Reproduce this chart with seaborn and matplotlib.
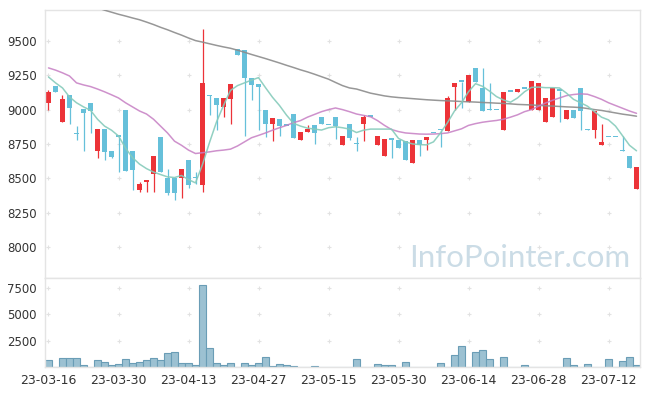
import numpy as np
import pandas as pd
import matplotlib
matplotlib.use("Agg")
import matplotlib.pyplot as plt
import seaborn as sns

sns.set_theme(style="white")
plt.rcParams['font.family'] = ['DejaVu Sans']

# trading days (KRX holidays skipped)
holidays = ["2023-05-01", "2023-05-05", "2023-05-29", "2023-06-06"]
dates = pd.bdate_range("2023-03-16", "2023-07-18", freq="C", holidays=holidays)

# daily candles
open_ = [9046, 9171, 8907, 9110, 8820, 9005, 9051, 8701, 8862, 8699,
         8803, 8997, 8699, 8414, 8471, 8532, 8801, 8500, 8500, 8498,
         8632, 8510, 8449, 9105, 9086, 9022, 9076, 9439, 9434, 9233,
         9184, 9000, 8895, 8932, 8882, 8968, 8777, 8838, 8888, 8948,
         8888, 8948, 8745, 8895, 8748, 8892, 8949, 8745, 8664, 8785,
         8779, 8770, 8608, 8779, 8779, 8830, 8850, 8847, 9164, 9204,
         9054, 9301, 9160, 8998, 8998, 8850, 9132, 9130, 9152, 8996,
         8996, 8907, 8943, 9137, 8929, 8996, 9154, 8862, 8848, 8743,
         8799, 8799, 8699, 8662, 8421]
close_ = [9127, 9127, 9081, 9010, 8820, 8973, 8993, 8860, 8693, 8654,
          8803, 8553, 8561, 8456, 8485, 8662, 8546, 8392, 8392, 8566,
          8454, 8500, 9194, 9100, 9037, 9086, 9189, 9395, 9233, 9179,
          9164, 8895, 8941, 8882, 8882, 8796, 8838, 8862, 8826, 8895,
          8888, 8882, 8806, 8796, 8748, 8949, 8949, 8806, 8787, 8780,
          8721, 8635, 8779, 8743, 8801, 8830, 8850, 9088, 9192, 9204,
          9250, 9199, 8993, 8998, 8998, 9132, 9132, 9152, 9152, 9206,
          9192, 9088, 9154, 9137, 8998, 8941, 8988, 8848, 8993, 8767,
          8799, 8799, 8699, 8576, 8583]
high_ = [9140, 9171, 9103, 9110, 8880, 9005, 9051, 8860, 8862, 8699,
         8803, 8997, 8699, 8471, 8485, 8665, 8801, 8564, 8500, 8570,
         8632, 8545, 9586, 9105, 9086, 9086, 9189, 9439, 9434, 9233,
         9184, 9000, 8941, 8932, 8882, 8968, 8838, 8888, 8888, 8948,
         8888, 8948, 8806, 8895, 8801, 8961, 8949, 8806, 8787, 8785,
         8779, 8770, 8779, 8779, 8801, 8830, 8850, 9101, 9192, 9204,
         9250, 9301, 9301, 9194, 8998, 9132, 9132, 9152, 9152, 9206,
         9192, 9088, 9154, 9137, 8998, 8996, 9154, 8862, 8993, 8895,
         8799, 8799, 8809, 8662, 8583]
low_ = [8998, 9127, 8907, 8895, 8777, 8699, 8829, 8645, 8630, 8645,
        8546, 8553, 8417, 8397, 8397, 8397, 8546, 8380, 8343, 8355,
        8430, 8455, 8400, 8961, 8853, 8943, 8895, 9395, 8809, 9071,
        8850, 8801, 8772, 8809, 8882, 8796, 8777, 8838, 8748, 8895,
        8888, 8785, 8745, 8779, 8699, 8772, 8949, 8745, 8664, 8648,
        8721, 8635, 8608, 8660, 8704, 8830, 8728, 8847, 8998, 9013,
        9054, 9199, 8993, 8998, 8998, 8850, 9132, 9130, 9152, 8996,
        8996, 8907, 8943, 8912, 8929, 8941, 8855, 8848, 8796, 8743,
        8799, 8799, 8699, 8576, 8421]
volume = [700, 0, 850, 850, 850, 200, 0, 700, 500, 200,
          300, 760, 400, 500, 700, 880, 700, 1360, 1450, 400,
          400, 200, 7720, 1800, 400, 200, 400, 0, 400, 200,
          400, 950, 100, 300, 200, 100, 0, 0, 100, 30,
          30, 50, 50, 50, 760, 0, 0, 285, 190, 190,
          50, 475, 0, 50, 50, 0, 420, 50, 1140, 2000,
          50, 1460, 1610, 770, 50, 950, 0, 50, 190, 0,
          50, 0, 50, 50, 850, 190, 50, 280, 50, 50,
          760, 50, 570, 950, 190]

# moving averages as drawn
ma5 = [9238, 9195, 9158, 9092, 9050, 9020, 8995, 8930, 8880, 8850,
       8808, 8720, 8650, 8603, 8570, 8545, 8527, 8510, 8505, 8520,
       8490, 8466, 8600, 8760, 8910, 9030, 9140, 9175, 9195, 9215,
       9233, 9160, 9090, 9030, 8960, 8900, 8880, 8865, 8858, 8851,
       8868, 8875, 8868, 8858, 8833, 8850, 8858, 8858, 8858, 8858,
       8790, 8765, 8750, 8745, 8743, 8765, 8830, 8905, 8990, 9050,
       9130, 9189, 9170, 9135, 9095, 9070, 9054, 9085, 9130, 9162,
       9164, 9160, 9160, 9158, 9120, 9075, 9050, 9025, 8985, 8945,
       8925, 8880, 8810, 8740, 8700]
ma20 = [9304, 9288, 9268, 9245, 9195, 9180, 9168, 9150, 9130, 9108,
        9085, 9050, 9020, 8990, 8968, 8930, 8880, 8830, 8770, 8740,
        8705, 8680, 8686, 8692, 8700, 8705, 8712, 8735, 8765, 8795,
        8812, 8830, 8850, 8868, 8885, 8905, 8920, 8945, 8965, 8985,
        9000, 9012, 9000, 8985, 8968, 8958, 8948, 8920, 8885, 8855,
        8840, 8830, 8826, 8822, 8821, 8822, 8825, 8830, 8845, 8860,
        8885, 8898, 8908, 8915, 8921, 8930, 8945, 8962, 8985, 9000,
        9025, 9048, 9068, 9085, 9102, 9110, 9115, 9112, 9095, 9075,
        9050, 9030, 9010, 8990, 8973]
ma60 = [9850, 9835, 9820, 9805, 9790, 9775, 9760, 9742, 9725, 9710,
        9695, 9682, 9668, 9655, 9638, 9620, 9600, 9582, 9562, 9543,
        9522, 9503, 9492, 9480, 9468, 9457, 9447, 9433, 9418, 9402,
        9387, 9372, 9356, 9340, 9323, 9307, 9290, 9275, 9258, 9240,
        9222, 9198, 9175, 9158, 9150, 9135, 9120, 9110, 9100, 9093,
        9088, 9084, 9080, 9076, 9072, 9069, 9066, 9064, 9062, 9059,
        9057, 9055, 9052, 9050, 9047, 9045, 9042, 9038, 9036, 9034,
        9031, 9028, 9026, 9023, 9020, 9018, 9015, 9008, 9000, 8994,
        8985, 8976, 8967, 8960, 8952]

price_ticks = [8000, 8250, 8500, 8750, 9000, 9250, 9500]
vol_ticks = [2500, 5000, 7500]

RED = "#ec3338"
BLUE = "#66c0da"
GRID = "#e2e2e2"
SPINE = "#e4e4e4"

x = np.arange(len(close_))
o = np.array(open_); c = np.array(close_)
colors = np.where(c > o, RED, BLUE)
label_pos = list(range(0, len(x), 10))
labels = [dates[i].strftime("%y-%m-%d") for i in label_pos]

fig = plt.figure(figsize=(6.49, 3.96), dpi=100)
ax = fig.add_axes([45/649, (396-277.7)/396, 595/649, 267.7/396])
axv = fig.add_axes([45/649, (396-367.3)/396, 595/649, 89.6/396])

# --- price panel ---
gx, gy = np.meshgrid(label_pos, price_ticks)
ax.plot(gx.ravel(), gy.ravel(), "+", color=GRID, ms=3.5, mew=0.8, zorder=0)
ax.vlines(x, low_, high_, color=colors, lw=0.9, zorder=2)
body_h = np.maximum(np.abs(c - o), 10)
ax.bar(x, body_h, bottom=np.minimum(o, c), width=0.62, color=colors, linewidth=0, zorder=2)

sns.lineplot(x=x, y=ma60, ax=ax, color="#8c8c8c", lw=1.1, alpha=0.9, zorder=3)
sns.lineplot(x=x, y=ma20, ax=ax, color="#c67ec3", lw=1.1, alpha=0.85, zorder=3)
sns.lineplot(x=x, y=ma5, ax=ax, color="#86cbbb", lw=1.1, alpha=0.9, zorder=3)

ax.text(0.983, 0.041, "InfoPointer.com", transform=ax.transAxes, ha="right", va="baseline",
        fontsize=22.5, color="#cbdce6", family="Lato", zorder=1)

ax.set_xlim(-0.5, len(x) - 0.5)
ax.set_ylim(7775, 9726)
ax.set_yticks(price_ticks)
ax.set_xticks([])
ax.tick_params(axis="y", length=0, pad=6, labelsize=8.5, labelcolor="#333333")

# --- volume panel ---
gx, gy = np.meshgrid(label_pos, vol_ticks)
axv.plot(gx.ravel(), gy.ravel(), "+", color=GRID, ms=3.5, mew=0.8, zorder=0)
axv.bar(x, volume, width=1.0, color="#9cc1d2", edgecolor="#6a9db6", linewidth=0.8, zorder=2)
axv.set_xlim(-0.5, len(x) - 0.5)
axv.set_ylim(0, 8450)
axv.set_yticks(vol_ticks)
axv.set_xticks(label_pos)
axv.set_xticklabels(labels)
axv.tick_params(axis="y", length=0, pad=6, labelsize=8.5, labelcolor="#333333")
axv.tick_params(axis="x", length=0, pad=5, labelsize=9, labelcolor="#333333")

for a in (ax, axv):
    a.set_xlabel("")
    a.set_ylabel("")
    for s in a.spines.values():
        s.set_color(SPINE)
        s.set_linewidth(1)

fig.savefig("out.png", dpi=100)
